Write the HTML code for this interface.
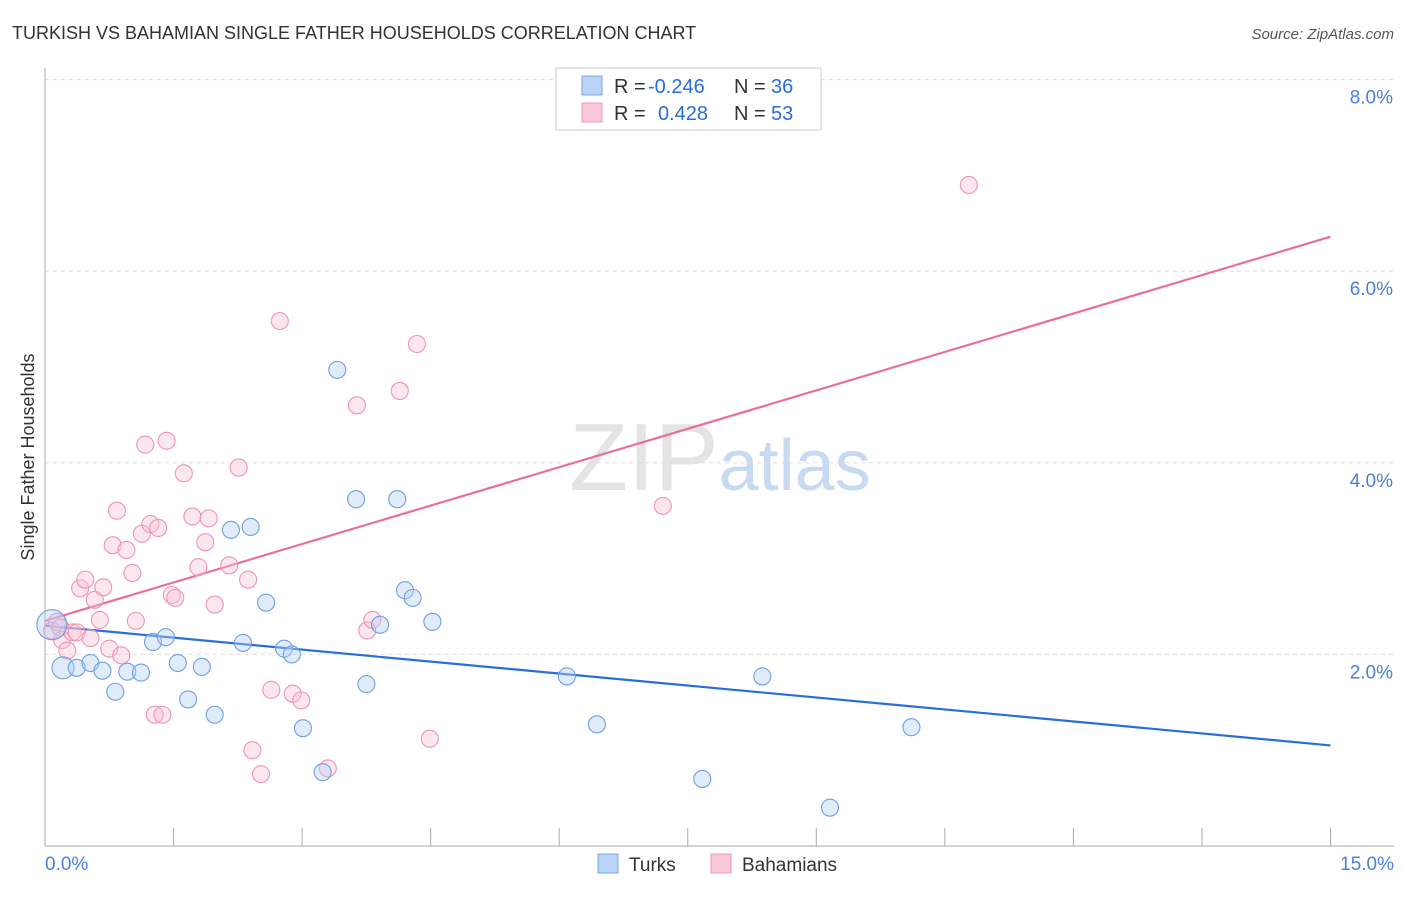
<!DOCTYPE html>
<html><head><meta charset="utf-8"><style>
body{margin:0;background:#fff;font-family:"Liberation Sans",sans-serif;}
svg text{font-family:"Liberation Sans",sans-serif;}
</style></head><body>
<svg id="chart" width="1406" height="892" viewBox="0 0 1406 892" xmlns="http://www.w3.org/2000/svg">
<rect width="1406" height="892" fill="#fff"/>
<text x="12" y="39" font-size="18" fill="#333">TURKISH VS BAHAMIAN SINGLE FATHER HOUSEHOLDS CORRELATION CHART</text>
<text x="1394" y="39" font-size="15" fill="#555" text-anchor="end" font-style="italic">Source: ZipAtlas.com</text>
<text x="720" y="490" font-size="96" text-anchor="middle" fill="#e4e4e4" font-family="Liberation Serif, serif">ZIP<tspan fill="#c8daf2" font-family="Liberation Sans, sans-serif" font-size="72">atlas</tspan></text>
<g id="grid"></g>
<g id="axes"></g>
<g id="lines"></g>
<g id="points"></g>
<text transform="translate(34,457) rotate(-90)" font-size="18" fill="#333" text-anchor="middle">Single Father Households</text>
<g>
<rect x="556" y="68" width="265" height="62" fill="#fff" stroke="#ccc"/>
<rect x="582" y="76" width="20" height="19" fill="#b9d4f5" stroke="#7fa9e0"/>
<text x="614" y="93" font-size="20" fill="#333">R =</text>
<text x="648" y="93" font-size="20" fill="#2a6dd8">-0.246</text>
<text x="734" y="93" font-size="20" fill="#333">N =</text>
<text x="771" y="93" font-size="20" fill="#2a6dd8">36</text>
<rect x="582" y="103" width="20" height="19" fill="#f9c7d7" stroke="#ee9ab7"/>
<text x="614" y="120" font-size="20" fill="#333">R =</text>
<text x="658" y="120" font-size="20" fill="#2a6dd8">0.428</text>
<text x="734" y="120" font-size="20" fill="#333">N =</text>
<text x="771" y="120" font-size="20" fill="#2a6dd8">53</text>
</g>
<g>
<rect x="598" y="854" width="20" height="19" fill="#b9d4f5" stroke="#7fa9e0"/>
<text x="629" y="871" font-size="19" fill="#333">Turks</text>
<rect x="711" y="854" width="20" height="19" fill="#f9c7d7" stroke="#ee9ab7"/>
<text x="742" y="871" font-size="19" fill="#333">Bahamians</text>
</g>
</svg>
<script>
const turksX=[0.08,0.21,0.37,0.53,0.67,0.82,0.96,1.12,1.26,1.41,1.55,1.67,1.83,1.98,2.17,2.31,2.40,2.58,2.79,2.88,3.01,3.24,3.41,3.63,3.75,3.91,4.11,4.20,4.29,4.52,6.09,6.44,7.67,8.37,9.16,10.11];
const turksY=[2.31,1.86,1.86,1.91,1.83,1.61,1.82,1.81,2.13,2.18,1.91,1.53,1.87,1.37,3.30,2.12,3.33,2.54,2.06,2.00,1.23,0.77,4.97,3.62,1.69,2.31,3.62,2.67,2.59,2.34,1.77,1.27,0.70,1.77,0.40,1.24];
const bahX=[0.08,0.14,0.18,0.20,0.26,0.32,0.37,0.41,0.47,0.53,0.58,0.64,0.68,0.75,0.79,0.84,0.89,0.95,1.02,1.06,1.13,1.17,1.23,1.28,1.32,1.37,1.42,1.48,1.52,1.62,1.72,1.79,1.87,1.91,1.98,2.15,2.26,2.37,2.42,2.52,2.64,2.74,2.89,2.99,3.30,3.64,3.76,3.82,4.14,4.34,4.49,7.21,10.78];
const bahY=[2.25,2.34,2.28,2.15,2.04,2.23,2.23,2.69,2.78,2.17,2.57,2.36,2.70,2.06,3.14,3.50,1.99,3.09,2.85,2.35,3.26,4.19,3.36,1.37,3.32,1.37,4.23,2.62,2.59,3.89,3.44,2.91,3.17,3.42,2.52,2.93,3.95,2.78,1.00,0.75,1.63,5.48,1.59,1.52,0.81,4.60,2.25,2.36,4.75,5.24,1.12,3.55,6.90];
const turksTrend=[2.30,1.05];
const bahTrend=[2.35,6.36];
const yTicks=[2,4,6,8];
const xTickCount=10;
const NS="http://www.w3.org/2000/svg";
const sx=v=>45+v*85.7, sy=v=>846-v*95.8;
function mk(tag,attrs,parent){const e=document.createElementNS(NS,tag);for(const k in attrs)e.setAttribute(k,attrs[k]);document.getElementById(parent).appendChild(e);return e;}
yTicks.forEach(t=>{
 const g=mk('line',{x1:45,x2:1394,y1:sy(t),y2:sy(t),stroke:'#ddd','stroke-dasharray':'4,4'},'grid');
 
 
 const l=mk('text',{x:1393,y:sy(t)+24,'font-size':19,fill:'#4a80d8','text-anchor':'end'},'grid');
 
 
 l.textContent=t.toFixed(1)+'%';
});
const ax=mk('line',{x1:45,x2:1394,y1:846,y2:846,stroke:'#aaa'},'axes');


const ay=mk('line',{x1:45,x2:45,y1:68,y2:846,stroke:'#aaa'},'axes');


for(let i=0;i<=xTickCount;i++){
 const x=sx(i*1.5);
 const t=mk('line',{x1:x,x2:x,y1:828,y2:846,stroke:'#aaa'},'axes');
 
 
}
const xl0=mk('text',{x:45,y:870,'font-size':19,fill:'#4a80d8'},'axes');


xl0.textContent='0.0%';
const xl1=mk('text',{x:1394,y:870,'font-size':19,fill:'#4a80d8','text-anchor':'end'},'axes');


xl1.textContent='15.0%';
function pts(X,Y,fill,stroke,name){
 X.forEach((x,i)=>{
  let r=8.5;
  if(name==='turks-point'&&i===0)r=15;
  if(name==='turks-point'&&i===1)r=11;
  const c=mk('circle',{cx:sx(x),cy:sy(Y[i]),r:r,fill:fill,'fill-opacity':0.4,stroke:stroke,'stroke-width':1.1},'points');
  
  
 });
}
pts(bahX,bahY,'#f9c2d4','#ee94b3','bahamians-point');
pts(turksX,turksY,'#b3cff3','#6f9fe0','turks-point');
const l1=mk('line',{x1:sx(0),y1:sy(turksTrend[0]),x2:sx(15),y2:sy(turksTrend[1]),stroke:'#2a6fd8','stroke-width':2.2},'lines');


const l2=mk('line',{x1:sx(0),y1:sy(bahTrend[0]),x2:sx(15),y2:sy(bahTrend[1]),stroke:'#e8709a','stroke-width':2.2},'lines');


</script>
</body></html>
